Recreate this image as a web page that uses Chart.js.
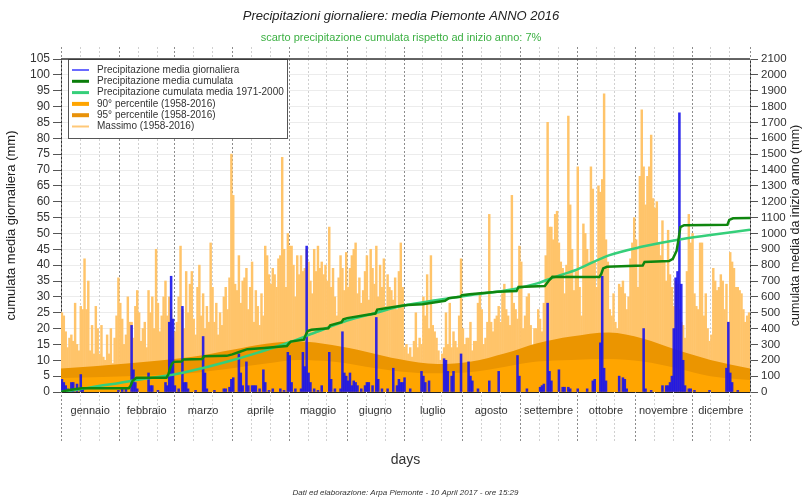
<!DOCTYPE html>
<html>
<head>
<meta charset="utf-8">
<script src="https://cdn.jsdelivr.net/npm/chart.js@4.4.1/dist/chart.umd.min.js"></script>
<style>
  html, body { margin: 0; padding: 0; background: #fff; }
  #wrap { width: 802px; height: 504px; }
</style>
</head>
<body>
<div id="wrap"><canvas id="chart" width="802" height="504"></canvas></div>
<script>
// month names and the day each month starts at (0 = 1 Jan, 2016 is a leap year)
const monthNames = ['gennaio', 'febbraio', 'marzo', 'aprile', 'maggio', 'giugno',
  'luglio', 'agosto', 'settembre', 'ottobre', 'novembre', 'dicembre'];
const monthStarts = [0, 31, 60, 91, 121, 152, 182, 213, 244, 274, 305, 335, 366];

// Massimo (1958-2016), one value per day, mm
const maxDaily = [
  25, 24, 19, 14, 17, 18, 16, 28, 15, 13, 27, 26, 42, 26, 35, 13, 21, 12, 27, 20, 12, 21, 11, 10, 18, 12, 20, 9, 17, 24, 36,
  28, 23, 15, 18, 30, 22, 22, 17, 27, 32, 25, 16, 20, 22, 14, 32, 25, 30, 20, 45, 28, 19, 24, 30, 35, 24, 30, 26, 17,
  19, 22, 30, 46, 26, 20, 38, 25, 34, 38, 23, 18, 33, 40, 24, 31, 20, 27, 22, 47, 33, 22, 28, 18, 25, 21, 30, 33, 26, 36, 75,
  62, 34, 32, 43, 28, 35, 36, 39, 26, 33, 41, 22, 32, 27, 21, 31, 24, 46, 43, 37, 34, 39, 37, 33, 42, 43, 74, 45, 33, 50,
  46, 46, 40, 30, 43, 37, 43, 38, 39, 45, 41, 35, 31, 45, 38, 46, 39, 41, 37, 40, 35, 52, 33, 39, 30, 24, 36, 43, 39, 32, 44,
  33, 39, 43, 45, 47, 31, 36, 28, 32, 38, 43, 29, 45, 39, 34, 46, 30, 40, 33, 42, 27, 37, 33, 32, 29, 36, 26, 38, 47, 33,
  14, 15, 12, 14, 11, 16, 25, 14, 17, 15, 30, 24, 37, 20, 43, 21, 19, 17, 13, 10, 12, 14, 25, 15, 28, 14, 19, 16, 14, 24, 42,
  20, 15, 17, 17, 22, 13, 16, 16, 28, 31, 26, 15, 17, 22, 56, 22, 19, 23, 24, 27, 22, 31, 34, 26, 24, 21, 62, 28, 26, 23, 46,
  41, 20, 24, 30, 31, 21, 14, 20, 20, 26, 23, 19, 28, 43, 85, 52, 52, 48, 56, 57, 47, 41, 39, 31, 40, 87, 59, 45, 32, 38,
  71, 33, 24, 53, 50, 45, 41, 71, 64, 41, 33, 65, 63, 67, 94, 48, 41, 26, 24, 31, 22, 20, 34, 33, 35, 31, 26, 30, 42, 47, 55,
  48, 33, 68, 89, 71, 59, 68, 71, 81, 61, 58, 60, 47, 43, 54, 41, 35, 51, 37, 33, 27, 35, 34, 26, 22, 21, 17, 38, 56, 47,
  50, 31, 27, 26, 47, 47, 24, 31, 20, 16, 18, 39, 35, 32, 33, 37, 35, 26, 34, 22, 44, 41, 39, 33, 33, 32, 31, 26, 22, 24, 25
];

// Precipitazione media giornaliera 2016: [day of year, mm], rainy days only
const dailyRain = [
  [1, 4], [2, 3], [3, 2], [4, 1], [6, 3], [7, 3], [9, 2.5], [11, 5.5], [12, 1], [31, 0.5], [33, 1], [35, 1],
  [38, 21], [39, 7], [40, 3], [41, 1], [47, 6], [48, 2], [49, 2], [52, 0.5], [56, 3], [57, 2], [58, 22], [59, 36.5], [60, 23],
  [61, 2], [63, 1], [65, 27], [66, 3], [67, 3], [68, 1], [72, 0.5], [76, 17.5], [77, 6], [78, 1], [82, 0.5], [87, 1], [88, 1], [90, 1.5],
  [91, 4], [92, 4.5], [95, 12], [96, 6], [97, 2], [99, 9.5], [100, 2], [102, 2], [103, 2], [104, 2], [106, 1], [108, 7], [109, 3],
  [111, 0.5], [113, 1], [117, 1], [119, 0.5],
  [121, 12.5], [122, 11.5], [123, 3], [125, 1], [128, 1], [129, 12.5], [130, 8], [131, 46], [132, 6], [133, 3], [135, 1], [137, 0.5],
  [139, 2], [143, 12.5], [144, 4], [146, 1], [149, 1], [150, 19], [151, 6], [152, 5],
  [153, 3.5], [154, 6], [155, 2], [156, 3.5], [157, 3], [158, 2], [160, 1], [162, 2], [163, 3], [164, 3], [166, 2], [168, 23.5],
  [169, 4], [171, 1], [174, 1], [177, 7.5], [179, 2], [180, 4], [181, 3], [182, 3],
  [183, 4.5], [186, 1], [192, 6.5], [193, 5], [194, 3], [196, 3.5], [204, 10.5], [205, 10], [206, 6.5], [208, 5], [209, 6.5], [213, 12],
  [217, 9.5], [218, 5], [219, 3.5], [222, 1], [228, 3.5], [233, 6.5], [243, 11.5], [244, 5],
  [248, 1], [255, 1.5], [256, 2], [257, 2.5], [259, 28], [260, 6.5], [261, 3.5], [265, 7], [267, 1.5], [268, 1.5], [270, 1.5], [271, 1],
  [275, 1], [280, 1], [283, 3.5], [284, 4], [287, 15.5], [288, 36.5], [289, 7.5], [290, 3.5], [297, 5], [299, 4.5], [300, 4], [301, 1],
  [310, 20], [311, 1], [314, 0.5], [320, 2], [322, 2], [323, 2], [324, 3], [325, 5], [326, 20], [327, 36], [328, 38], [329, 88],
  [330, 34], [331, 10], [332, 2], [334, 1], [335, 1],
  [337, 0.5], [345, 0.5], [354, 7.5], [355, 22], [356, 6], [357, 3], [360, 0.5]
];

// Precipitazione media cumulata 2016 (right axis): [day, mm]
const cumulata2016 = [
  [0, 0], [3, 10], [7, 18], [11, 23], [36, 24], [37, 40], [38, 70], [40, 90], [56, 90], [57, 110], [58, 150], [59, 180], [60, 190],
  [64, 192], [65, 205], [75, 208], [76, 225], [88, 228], [91, 237], [95, 254], [99, 270], [108, 278], [120, 290], [121, 305],
  [122, 318], [129, 330], [130, 360], [131, 385], [133, 392], [142, 402], [143, 420], [149, 440], [150, 458], [152, 466],
  [162, 485], [167, 495], [168, 520], [180, 542], [184, 549], [192, 553], [204, 575], [206, 592], [212, 600], [213, 610],
  [217, 616], [232, 632], [242, 637], [243, 662], [257, 668], [259, 700], [261, 726], [275, 725], [286, 725], [287, 745],
  [288, 780], [290, 790], [309, 797], [310, 820], [323, 826], [325, 840], [327, 890], [328, 960], [329, 1040], [331, 1052],
  [354, 1055], [355, 1085], [357, 1095], [366, 1098]
];

// Precipitazione cumulata media 1971-2000 (right axis): [day, mm]
const cumulataClima = [
  [0, 0], [10, 18], [20, 38], [31, 57], [45, 85], [60, 110], [75, 150], [91, 200], [105, 250], [121, 312], [135, 375],
  [152, 450], [166, 495], [182, 545], [200, 580], [218, 612], [236, 640], [253, 685], [263, 728], [274, 772], [291, 862],
  [309, 917], [327, 959], [345, 990], [366, 1024]
];

// 95° and 90° percentile (1958-2016): [day, mm]
const perc95 = [
  [0, 7.4], [35, 9.0], [70, 11.1], [91, 13.3], [109, 15.2], [126, 15.9], [144, 14.8], [162, 12.7], [180, 10.3], [200, 8.8],
  [218, 9.6], [236, 12.2], [253, 15.4], [271, 17.5], [291, 18.8], [309, 16.9], [327, 13.3], [345, 10.1], [366, 7.4]
];
const perc90 = [
  [0, 4.4], [35, 5.0], [70, 6.0], [91, 7.5], [109, 9.0], [126, 10.1], [144, 9.6], [162, 8.0], [180, 6.5], [200, 5.9],
  [218, 6.3], [236, 8.0], [253, 9.6], [271, 10.1], [291, 10.4], [309, 9.6], [327, 7.5], [345, 5.0], [366, 3.8]
];

const FONT = "'Liberation Sans', Arial, sans-serif";
Chart.defaults.font.family = FONT;

const toXY = pts => pts.map(p => ({ x: p[0], y: p[1] }));
const toBars = pts => pts.map(p => ({ x: p[0] - 0.5, y: p[1] }));

const legendItems = [
  ['Precipitazione media giornaliera', 'rgba(80,80,255,0.85)', 2],
  ['Precipitazione media cumulata', '#0a7d0a', 3],
  ['Precipitazione cumulata media 1971-2000', '#35cf7a', 3],
  ['90° percentile (1958-2016)', '#ffa500', 4],
  ['95° percentile (1958-2016)', '#e8920a', 4],
  ['Massimo (1958-2016)', '#ffc878', 2]
];

const decor = {
  id: 'decor',
  beforeDatasetsDraw(chart) {
    const { ctx, scales: { x } } = chart;
    ctx.save();
    ctx.lineWidth = 1;
    ctx.setLineDash([2, 2]);
    monthStarts.forEach((d, i) => {
      const marks = [[d, '#8c8c8c']];
      if (i < 12) marks.push([d + 10, '#d0d0d0'], [d + 20, '#d0d0d0']);
      marks.forEach(([v, c]) => {
        const px = Math.round(x.getPixelForValue(v)) + 0.5;
        ctx.strokeStyle = c;
        ctx.beginPath();
        ctx.moveTo(px, 47);
        ctx.lineTo(px, 442);
        ctx.stroke();
      });
    });
    ctx.restore();
  },
  afterDraw(chart) {
    const { ctx, chartArea: a, scales: { x } } = chart;
    ctx.save();

    // legend box
    ctx.fillStyle = '#fff';
    ctx.fillRect(68, 59, 219, 79);
    ctx.strokeStyle = '#555';
    ctx.lineWidth = 1;
    ctx.strokeRect(68.5, 59.5, 219, 79);
    ctx.font = '10px ' + FONT;
    ctx.textBaseline = 'middle';
    ctx.textAlign = 'left';
    legendItems.forEach(([txt, col, w], i) => {
      const y = 70 + i * 11.3;
      ctx.strokeStyle = col;
      ctx.lineWidth = w;
      ctx.beginPath();
      ctx.moveTo(72, y);
      ctx.lineTo(89, y);
      ctx.stroke();
      ctx.fillStyle = '#333';
      ctx.fillText(txt, 97, y);
    });

    // top frame line
    ctx.strokeStyle = '#333';
    ctx.lineWidth = 1.5;
    ctx.beginPath();
    ctx.moveTo(a.left, a.top);
    ctx.lineTo(a.right, a.top);
    ctx.stroke();

    // month names
    ctx.fillStyle = '#333';
    ctx.font = '11px ' + FONT;
    ctx.textAlign = 'center';
    monthNames.forEach((m, i) => {
      const cx = x.getPixelForValue((monthStarts[i] + monthStarts[i + 1]) / 2);
      ctx.fillText(m, cx, 411);
    });

    // right axis title, reading bottom to top
    ctx.save();
    ctx.translate(796, (a.top + a.bottom) / 2);
    ctx.rotate(-Math.PI / 2);
    ctx.font = '12.5px ' + FONT;
    ctx.fillStyle = '#222';
    ctx.fillText('cumulata media da inizio anno (mm)', 0, 0);
    ctx.restore();

    // footer
    ctx.font = 'italic 8px ' + FONT;
    ctx.fillStyle = '#333';
    ctx.fillText('Dati ed elaborazione: Arpa Piemonte - 10 April 2017 - ore 15:29', (a.left + a.right) / 2, 493);
    ctx.restore();
  }
};

new Chart(document.getElementById('chart'), {
  type: 'bar',
  data: {
    datasets: [
      {
        type: 'line',
        label: 'Precipitazione media cumulata',
        data: toXY(cumulata2016),
        yAxisID: 'y1',
        borderColor: '#0f860f',
        borderWidth: 2.5,
        pointRadius: 0,
        tension: 0,
        order: 0
      },
      {
        type: 'line',
        label: 'Precipitazione cumulata media 1971-2000',
        data: toXY(cumulataClima),
        yAxisID: 'y1',
        borderColor: '#35cf7a',
        borderWidth: 2.5,
        pointRadius: 0,
        cubicInterpolationMode: 'monotone',
        order: 1
      },
      {
        type: 'bar',
        label: 'Precipitazione media giornaliera',
        data: toBars(dailyRain),
        backgroundColor: 'rgba(25,20,235,0.9)',
        grouped: false,
        barThickness: 1.9,
        order: 2
      },
      {
        type: 'line',
        label: '90° percentile (1958-2016)',
        data: toXY(perc90),
        fill: 'origin',
        backgroundColor: '#ffa500',
        borderWidth: 0,
        pointRadius: 0,
        cubicInterpolationMode: 'monotone',
        order: 3
      },
      {
        type: 'line',
        label: '95° percentile (1958-2016)',
        data: toXY(perc95),
        fill: 'origin',
        backgroundColor: '#eb9500',
        borderWidth: 0,
        pointRadius: 0,
        cubicInterpolationMode: 'monotone',
        order: 4
      },
      {
        type: 'bar',
        label: 'Massimo (1958-2016)',
        data: maxDaily.map((v, i) => ({ x: i + 0.5, y: v })),
        backgroundColor: '#ffc46a',
        grouped: false,
        barThickness: 1.8,
        order: 5
      }
    ]
  },
  options: {
    responsive: false,
    devicePixelRatio: 1,
    animation: false,
    events: [],
    layout: { padding: 0 },
    plugins: {
      legend: { display: false },
      tooltip: { enabled: false },
      title: {
        display: true,
        text: 'Precipitazioni giornaliere: media Piemonte ANNO 2016',
        color: '#222',
        font: { size: 13, style: 'italic', weight: 'normal' },
        padding: { top: 9, bottom: 5 }
      },
      subtitle: {
        display: true,
        text: 'scarto precipitazione cumulata rispetto ad inizio anno: 7%',
        color: '#3cb043',
        font: { size: 11 },
        padding: { top: 2, bottom: 14.2 }
      }
    },
    scales: {
      x: {
        type: 'linear',
        min: 0,
        max: 366,
        offset: false,
        grid: { display: false },
        ticks: { display: false },
        border: { display: true, color: '#222', width: 1 },
        title: {
          display: true,
          text: 'days',
          color: '#333',
          font: { size: 14 },
          padding: { top: 0, bottom: 35 }
        },
        afterFit: s => { s.height = 112; }
      },
      y: {
        position: 'left',
        min: 0,
        max: 105,
        ticks: { stepSize: 5, autoSkip: false, color: '#333', font: { size: 12 }, padding: 3 },
        grid: { color: '#ececec', tickColor: '#555', tickLength: 8 },
        border: { color: '#333' },
        title: {
          display: true,
          text: 'cumulata media giornaliera (mm)',
          color: '#222',
          font: { size: 13 },
          padding: { top: 4, bottom: 0 }
        },
        afterFit: s => { s.width = 61; }
      },
      y1: {
        position: 'right',
        min: 0,
        max: 2100,
        ticks: { stepSize: 100, autoSkip: false, color: '#333', font: { size: 11.5 }, padding: 3, callback: v => String(v) },
        grid: { drawOnChartArea: false, tickColor: '#555', tickLength: 8 },
        border: { color: '#333' },
        afterFit: s => { s.width = 52; }
      }
    }
  },
  plugins: [decor]
});
</script>
</body>
</html>
